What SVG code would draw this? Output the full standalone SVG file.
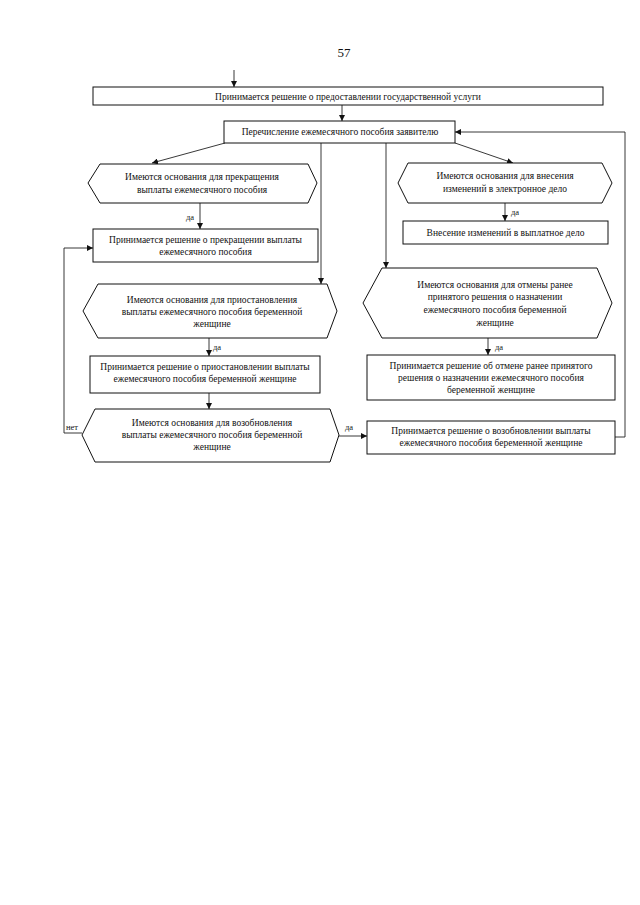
<svg xmlns="http://www.w3.org/2000/svg" width="640" height="905" viewBox="0 0 640 905">
<style>
text{font-family:"Liberation Serif","Times New Roman",serif;font-size:9.5px;fill:#111;text-anchor:middle}
.pg{font-size:13px}
.lbl{font-size:8.5px;text-anchor:start}
.shape{fill:#fff;stroke:#111;stroke-width:1}
.conn{fill:none;stroke:#222;stroke-width:0.9}
</style>
<defs>
<marker id="ah" viewBox="0 0 10 10" refX="10" refY="5" markerWidth="6" markerHeight="6" orient="auto" markerUnits="userSpaceOnUse">
<path d="M0,0 L10,5 L0,10 z" fill="#111"/>
</marker>
</defs>
<rect width="640" height="905" fill="#fff"/>
<text class="pg" x="344" y="57">57</text>

<g id="connectors">
<line class="conn" x1="234" y1="70" x2="234" y2="87" marker-end="url(#ah)"/>
<line class="conn" x1="342" y1="105" x2="342" y2="121" marker-end="url(#ah)"/>
<polyline class="conn" points="615,437 625,437 625,132 455,132" marker-end="url(#ah)"/>
<line class="conn" x1="225" y1="143" x2="152" y2="163" marker-end="url(#ah)"/>
<line class="conn" x1="321" y1="143" x2="321" y2="284" marker-end="url(#ah)"/>
<line class="conn" x1="386" y1="143" x2="386" y2="268" marker-end="url(#ah)"/>
<line class="conn" x1="455" y1="143" x2="513" y2="163" marker-end="url(#ah)"/>
<line class="conn" x1="200" y1="203" x2="200" y2="229" marker-end="url(#ah)"/>
<text class="lbl" x="186" y="220">да</text>
<line class="conn" x1="505" y1="203" x2="505" y2="221" marker-end="url(#ah)"/>
<text class="lbl" x="511" y="215">да</text>
<line class="conn" x1="209" y1="338" x2="209" y2="356" marker-end="url(#ah)"/>
<text class="lbl" x="213" y="350">да</text>
<line class="conn" x1="209" y1="393" x2="209" y2="409" marker-end="url(#ah)"/>
<line class="conn" x1="488" y1="338" x2="488" y2="355" marker-end="url(#ah)"/>
<text class="lbl" x="495" y="350">да</text>
<line class="conn" x1="339" y1="436" x2="367" y2="436" marker-end="url(#ah)"/>
<text class="lbl" x="345" y="430">да</text>
<polyline class="conn" points="82,433 64,433 64,248 93,248" marker-end="url(#ah)"/>
<text class="lbl" x="66" y="430">нет</text>
</g>

<g id="n1">
<rect class="shape" x="93" y="87" width="510" height="18"/>
<text x="348" y="99.5">Принимается решение о предоставлении государственной услуги</text>
</g>
<g id="n2">
<rect class="shape" x="224" y="121" width="231" height="22"/>
<text x="340" y="135">Перечисление ежемесячного пособия заявителю</text>
</g>
<g id="n3">
<polygon class="shape" points="88,183 100,164 308,164 317,183 308,203 100,203"/>
<text x="202" y="180">Имеются основания для прекращения</text>
<text x="202" y="193">выплаты ежемесячного пособия</text>
</g>
<g id="n4">
<rect class="shape" x="93" y="229" width="225" height="33"/>
<text x="205.5" y="243">Принимается решение о прекращении выплаты</text>
<text x="205.5" y="255">ежемесячного пособия</text>
</g>
<g id="n5">
<polygon class="shape" points="398,183 408,163 602,163 612,183 602,203 408,203"/>
<text x="505" y="179">Имеются основания для внесения</text>
<text x="505" y="192">изменений в электронное дело</text>
</g>
<g id="n6">
<rect class="shape" x="403" y="221" width="205" height="23"/>
<text x="505.5" y="236">Внесение изменений в выплатное дело</text>
</g>
<g id="n7">
<polygon class="shape" points="83,311 98,284 327,284 337,311 327,338 98,338"/>
<text x="212" y="303">Имеются основания для приостановления</text>
<text x="212" y="315">выплаты ежемесячного пособия беременной</text>
<text x="212" y="327">женщине</text>
</g>
<g id="n8">
<rect class="shape" x="90" y="356" width="230" height="37"/>
<text x="205" y="370">Принимается решение о приостановлении выплаты</text>
<text x="205" y="382">ежемесячного пособия беременной женщине</text>
</g>
<g id="n9">
<polygon class="shape" points="82,435 95,409 330,409 339,435 330,462 95,462"/>
<text x="212" y="426">Имеются основания для возобновления</text>
<text x="212" y="438">выплаты ежемесячного пособия беременной</text>
<text x="212" y="450">женщине</text>
</g>
<g id="n10">
<rect class="shape" x="367" y="421" width="248" height="33"/>
<text x="491" y="434">Принимается решение о возобновлении выплаты</text>
<text x="491" y="446">ежемесячного пособия беременной женщине</text>
</g>
<g id="n11">
<polygon class="shape" points="363,303 382,268 597,268 612,303 597,338 382,338"/>
<text x="495" y="288">Имеются основания для отмены ранее</text>
<text x="495" y="300">принятого решения о назначении</text>
<text x="495" y="313">ежемесячного пособия беременной</text>
<text x="495" y="326">женщине</text>
</g>
<g id="n12">
<rect class="shape" x="367" y="355" width="248" height="45"/>
<text x="491" y="369">Принимается решение об отмене ранее принятого</text>
<text x="491" y="381">решения о назначении ежемесячного пособия</text>
<text x="491" y="393">беременной женщине</text>
</g>
</svg>
